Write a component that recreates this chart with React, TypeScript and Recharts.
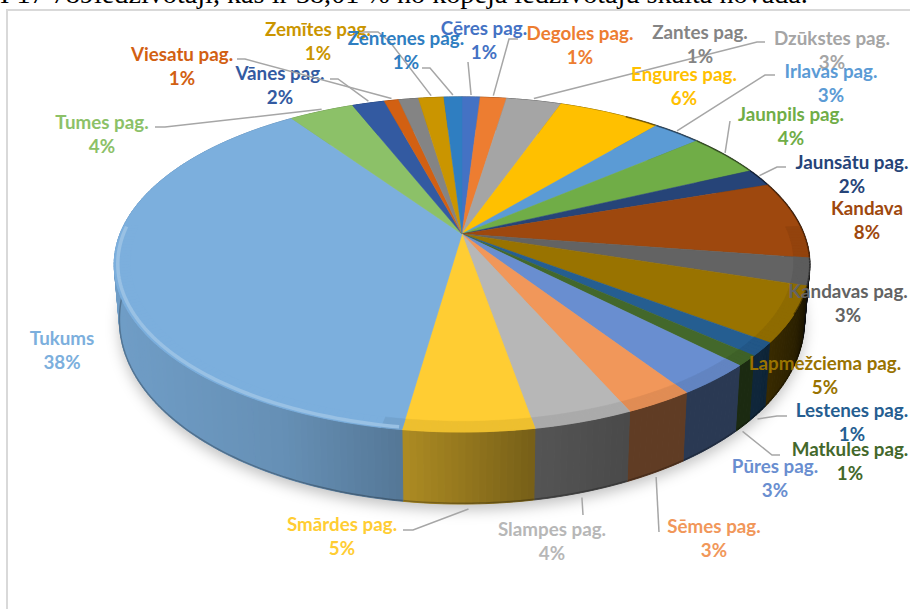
import React from 'react';
import { PieChart, Pie } from 'recharts';

const names = ['Cēres pag.', 'Degoles pag.', 'Dzūkstes pag.', 'Engures pag.', 'Irlavas pag.', 'Jaunpils pag.', 'Jaunsātu pag.', 'Kandava', 'Kandavas pag.', 'Lapmežciema pag.', 'Lestenes pag.', 'Matkules pag.', 'Pūres pag.', 'Sēmes pag.', 'Slampes pag.', 'Smārdes pag.', 'Tukums', 'Tumes pag.', 'Vānes pag.', 'Viesatu pag.', 'Zantes pag.', 'Zemītes pag.', 'Zentenes pag.'];
const values = [1.0, 1.45, 3.05, 5.7, 2.7, 4.2, 1.7, 7.5, 2.6, 5.3, 1.3, 1.0, 3.1, 2.7, 3.9, 5.1, 38.0, 3.6, 1.8, 0.8, 1.1, 1.4, 1.0];
const colors = ['#4472C4', '#ED7D31', '#A5A5A5', '#FFC000', '#5B9BD5', '#70AD47', '#264478', '#9E480E', '#636363', '#997300', '#255E91', '#43682B', '#698ED0', '#F1975A', '#B7B7B7', '#FFCD33', '#7CAFDD', '#8CC168', '#335AA1', '#D26012', '#848484', '#CA9500', '#2F7EC1'];
const headline = 'I 17 789iedzīvotāji, kas ir 38,01 % no kopējā iedzīvotāju skaita novadā.';

// label centre (x, first-line y) and leader elbows, in chart pixels, in the order of `names`
const labelSpots: [number, number][] = [[484, 28], [580, 33], [832, 38], [684, 74], [831, 71], [791, 114], [852, 162], [867, 208], [848, 291], [825, 363], [852, 410], [850, 449], [775, 466], [714, 526], [552, 529], [342, 524], [62, 338], [102, 122], [280, 73], [182, 54], [700, 32], [318, 29], [406, 38]];
const leaders: [number, number][][] = [[[468, 62]], [[509, 39], [518, 39]], [[757, 42], [765, 42]], [], [[765, 75], [775, 75]], [[730, 121]], [[777, 167], [786, 167]], [], [], [], [[777, 416], [787, 416]], [[772, 455], [780, 455]], [], [[659, 532]], [[583, 515]], [[413, 530], [403, 530]], [], [[165, 127], [155, 127]], [[338, 79], [330, 79]], [[245, 59], [237, 59]], [], [[390, 42], [378, 32], [360, 32]], [[430, 68], [422, 68]]];

const rows = names.map((name, i) => ({ name, value: values[i], fill: colors[i] }));
const total = values.reduce((a, b) => a + b, 0);
const baseRows = [{ name: 'base', value: total, fill: '#808080' }];

const TILT = 0.182;
const FORE = 162 / 342;
const DEG = Math.PI / 180;

type P = [number, number];
const topPoint = (cx: number, cy: number, R: number, deg: number, k = 1): P => {
  const u = Math.cos(deg * DEG) * k;
  const v = -Math.sin(deg * DEG) * k;
  const s = 1 - TILT * v;
  return [cx + (R * u) / s, cy + (R * FORE * v) / s];
};
const botPoint = (cx: number, cy: number, R: number, deg: number): P => {
  const [x, y] = topPoint(cx, cy, R, deg);
  const v = -Math.sin(deg * DEG);
  return [cx + (x - cx) * 0.985, y + 52 + 20 * v];
};
const path = (pts: P[]) => 'M' + pts.map((p) => `${p[0].toFixed(2)},${p[1].toFixed(2)}`).join('L') + 'Z';
const arcAngles = (a: number, b: number, step: number) => {
  const out: number[] = [];
  const n = Math.max(1, Math.ceil(Math.abs(b - a) / step));
  for (let i = 0; i <= n; i++) out.push(a + ((b - a) * i) / n);
  return out;
};
const rgb = (h: string) => [1, 3, 5].map((i) => parseInt(h.slice(i, i + 2), 16));
const scale = (h: string, k: number) => {
  const c = rgb(h);
  return `rgb(${c.map((v) => Math.round(v * k)).join(',')})`;
};
const lighten = (h: string, k: number) => {
  const c = rgb(h);
  return `rgb(${c.map((v) => Math.round(v + (255 - v) * k)).join(',')})`;
};
const lightStops: P[] = [[-350, 0.9], [-180, 0.82], [-60, 0.68], [75, 0.46], [170, 0.4], [300, 0.4], [335, 0.28], [350, 0.12]];
const lightAt = (dx: number) => {
  for (let i = 1; i < lightStops.length; i++) {
    const [x0, y0] = lightStops[i - 1];
    const [x1, y1] = lightStops[i];
    if (dx <= x1) return y0 + ((y1 - y0) * Math.max(0, dx - x0)) / (x1 - x0);
  }
  return 0.12;
};

const ShadowShape = (p: any) => {
  const pts = arcAngles(0, 360, 3).map((a) => botPoint(p.cx, p.cy, p.outerRadius, a));
  return <path d={path(pts.map(([x, y]) => [x, y + 6] as P))} fill="#000" fillOpacity={0.24} style={{ filter: 'blur(7px)' }} />;
};

const WallShape = (p: any) => {
  const { cx, cy, outerRadius: R, startAngle, endAngle, fill } = p;
  const ang = arcAngles(startAngle, endAngle, 1);
  const strips = [];
  for (let i = 0; i + 1 < ang.length; i++) {
    const a = ang[i];
    const b = ang[i + 1];
    const t0 = topPoint(cx, cy, R, a);
    const t1 = topPoint(cx, cy, R, b);
    const b0 = botPoint(cx, cy, R, a);
    const b1 = botPoint(cx, cy, R, b);
    const c = scale(fill, lightAt((t0[0] + t1[0]) / 2 - cx));
    strips.push(<path key={i} d={path([t0, t1, b1, b0])} fill={c} stroke={c} strokeWidth={1} />);
  }
  const edge = ang.map((a) => botPoint(cx, cy, R, a));
  return (
    <g>
      {strips}
      <polyline points={edge.map((q) => `${q[0]},${q[1] - 0.7}`).join(' ')} fill="none" stroke="#000" strokeOpacity={0.25} strokeWidth={1.5} />
    </g>
  );
};

const TopShape = (p: any) => {
  const { cx, cy, outerRadius: R, startAngle, endAngle, fill } = p;
  const ang = arcAngles(startAngle, endAngle, 1);
  const pts: P[] = [[cx, cy], ...ang.map((a) => topPoint(cx, cy, R, a))];
  const band = [];
  const glow: P[] = [];
  for (let i = 0; i + 1 < ang.length; i++) {
    const a = ang[i];
    const b = ang[i + 1];
    const mid = (a + b) / 2;
    const v = -Math.sin(mid * DEG);
    const u = Math.cos(mid * DEG);
    const o0 = topPoint(cx, cy, R, a);
    const o1 = topPoint(cx, cy, R, b);
    if (v > -0.05) {
      const i0 = topPoint(cx, cy, R, a, 0.955);
      const i1 = topPoint(cx, cy, R, b, 0.955);
      const c = u < -0.2 ? fill : scale(fill, 0.93);
      band.push(<path key={i} d={path([o0, o1, i1, i0])} fill={c} stroke={c} strokeWidth={0.5} />);
      if (u < -0.15) glow.push(topPoint(cx, cy, R, mid, 0.99));
    }
    if (u > 0.55 && v < 0.45) {
      band.push(<line key={`d${i}`} x1={o0[0]} y1={o0[1]} x2={o1[0]} y2={o1[1]} stroke="#000" strokeOpacity={0.45} strokeWidth={1.6} />);
    }
  }
  return (
    <g>
      <path d={path(pts)} fill={fill} stroke={fill} strokeWidth={0.5} />
      {band}
      {glow.length > 1 && <polyline points={glow.map((q) => `${q[0]},${q[1]}`).join(' ')} fill="none" stroke={lighten(fill, 0.22)} strokeWidth={3.5} strokeLinejoin="round" style={{ filter: 'blur(0.6px)' }} />}
    </g>
  );
};

const renderLabel = (p: any) => {
  const { cx, cy, outerRadius: R, midAngle, index, percent, name, fill } = p;
  const [lx, ly] = labelSpots[index];
  const elbows = leaders[index];
  const v = -Math.sin(midAngle * DEG);
  const start = v > 0 ? botPoint(cx, cy, R, midAngle) : topPoint(cx, cy, R, midAngle);
  const startPt: P = [start[0], start[1] + (v > 0 ? 5 : -2)];
  const line = elbows.length ? [startPt, ...elbows] : [];
  const font = { fontFamily: 'Lato, Carlito, sans-serif', fontSize: 18.8, fontWeight: 700, fill, textAnchor: 'middle' as const };
  return (
    <g>
      {line.length > 0 && <polyline points={line.map((q) => q.join(',')).join(' ')} fill="none" stroke="#A6A6A6" strokeWidth={1.5} />}
      <text x={lx} y={ly + 6.5} {...font}>{name}</text>
      <text x={lx} y={ly + 30.5} {...font}>{`${Math.round(percent * 100)}%`}</text>
    </g>
  );
};

export default function App() {
  const geo = { cx: 462, cy: 234, outerRadius: 342, innerRadius: 0, startAngle: 90, endAngle: -270, dataKey: 'value', isAnimationActive: false, stroke: 'none', paddingAngle: 0 };
  return (
    <div style={{ position: 'absolute', left: 0, top: 0, width: 910, height: 609, overflow: 'hidden', background: '#fff' }}>
      <div style={{ position: 'absolute', left: 0, top: -18, whiteSpace: 'nowrap', fontFamily: '"Liberation Serif", serif', fontSize: 28.2, lineHeight: '24px', color: '#000' }}>{headline}</div>
      <div style={{ position: 'absolute', left: 6, top: 9, width: 904, height: 600, borderLeft: '2px solid #D9D9D9', borderTop: '2px solid #D9D9D9', boxSizing: 'border-box' }} />
      <div style={{ position: 'absolute', left: 0, top: 0 }}>
        <PieChart width={910} height={609} margin={{ top: 0, right: 0, bottom: 0, left: 0 }}>
          <Pie {...geo} data={baseRows} shape={ShadowShape} label={false} labelLine={false} />
          <Pie {...geo} data={rows} shape={WallShape} label={false} labelLine={false} />
          <Pie {...geo} data={rows} shape={TopShape} label={renderLabel} labelLine={false} />
        </PieChart>
      </div>
    </div>
  );
}
